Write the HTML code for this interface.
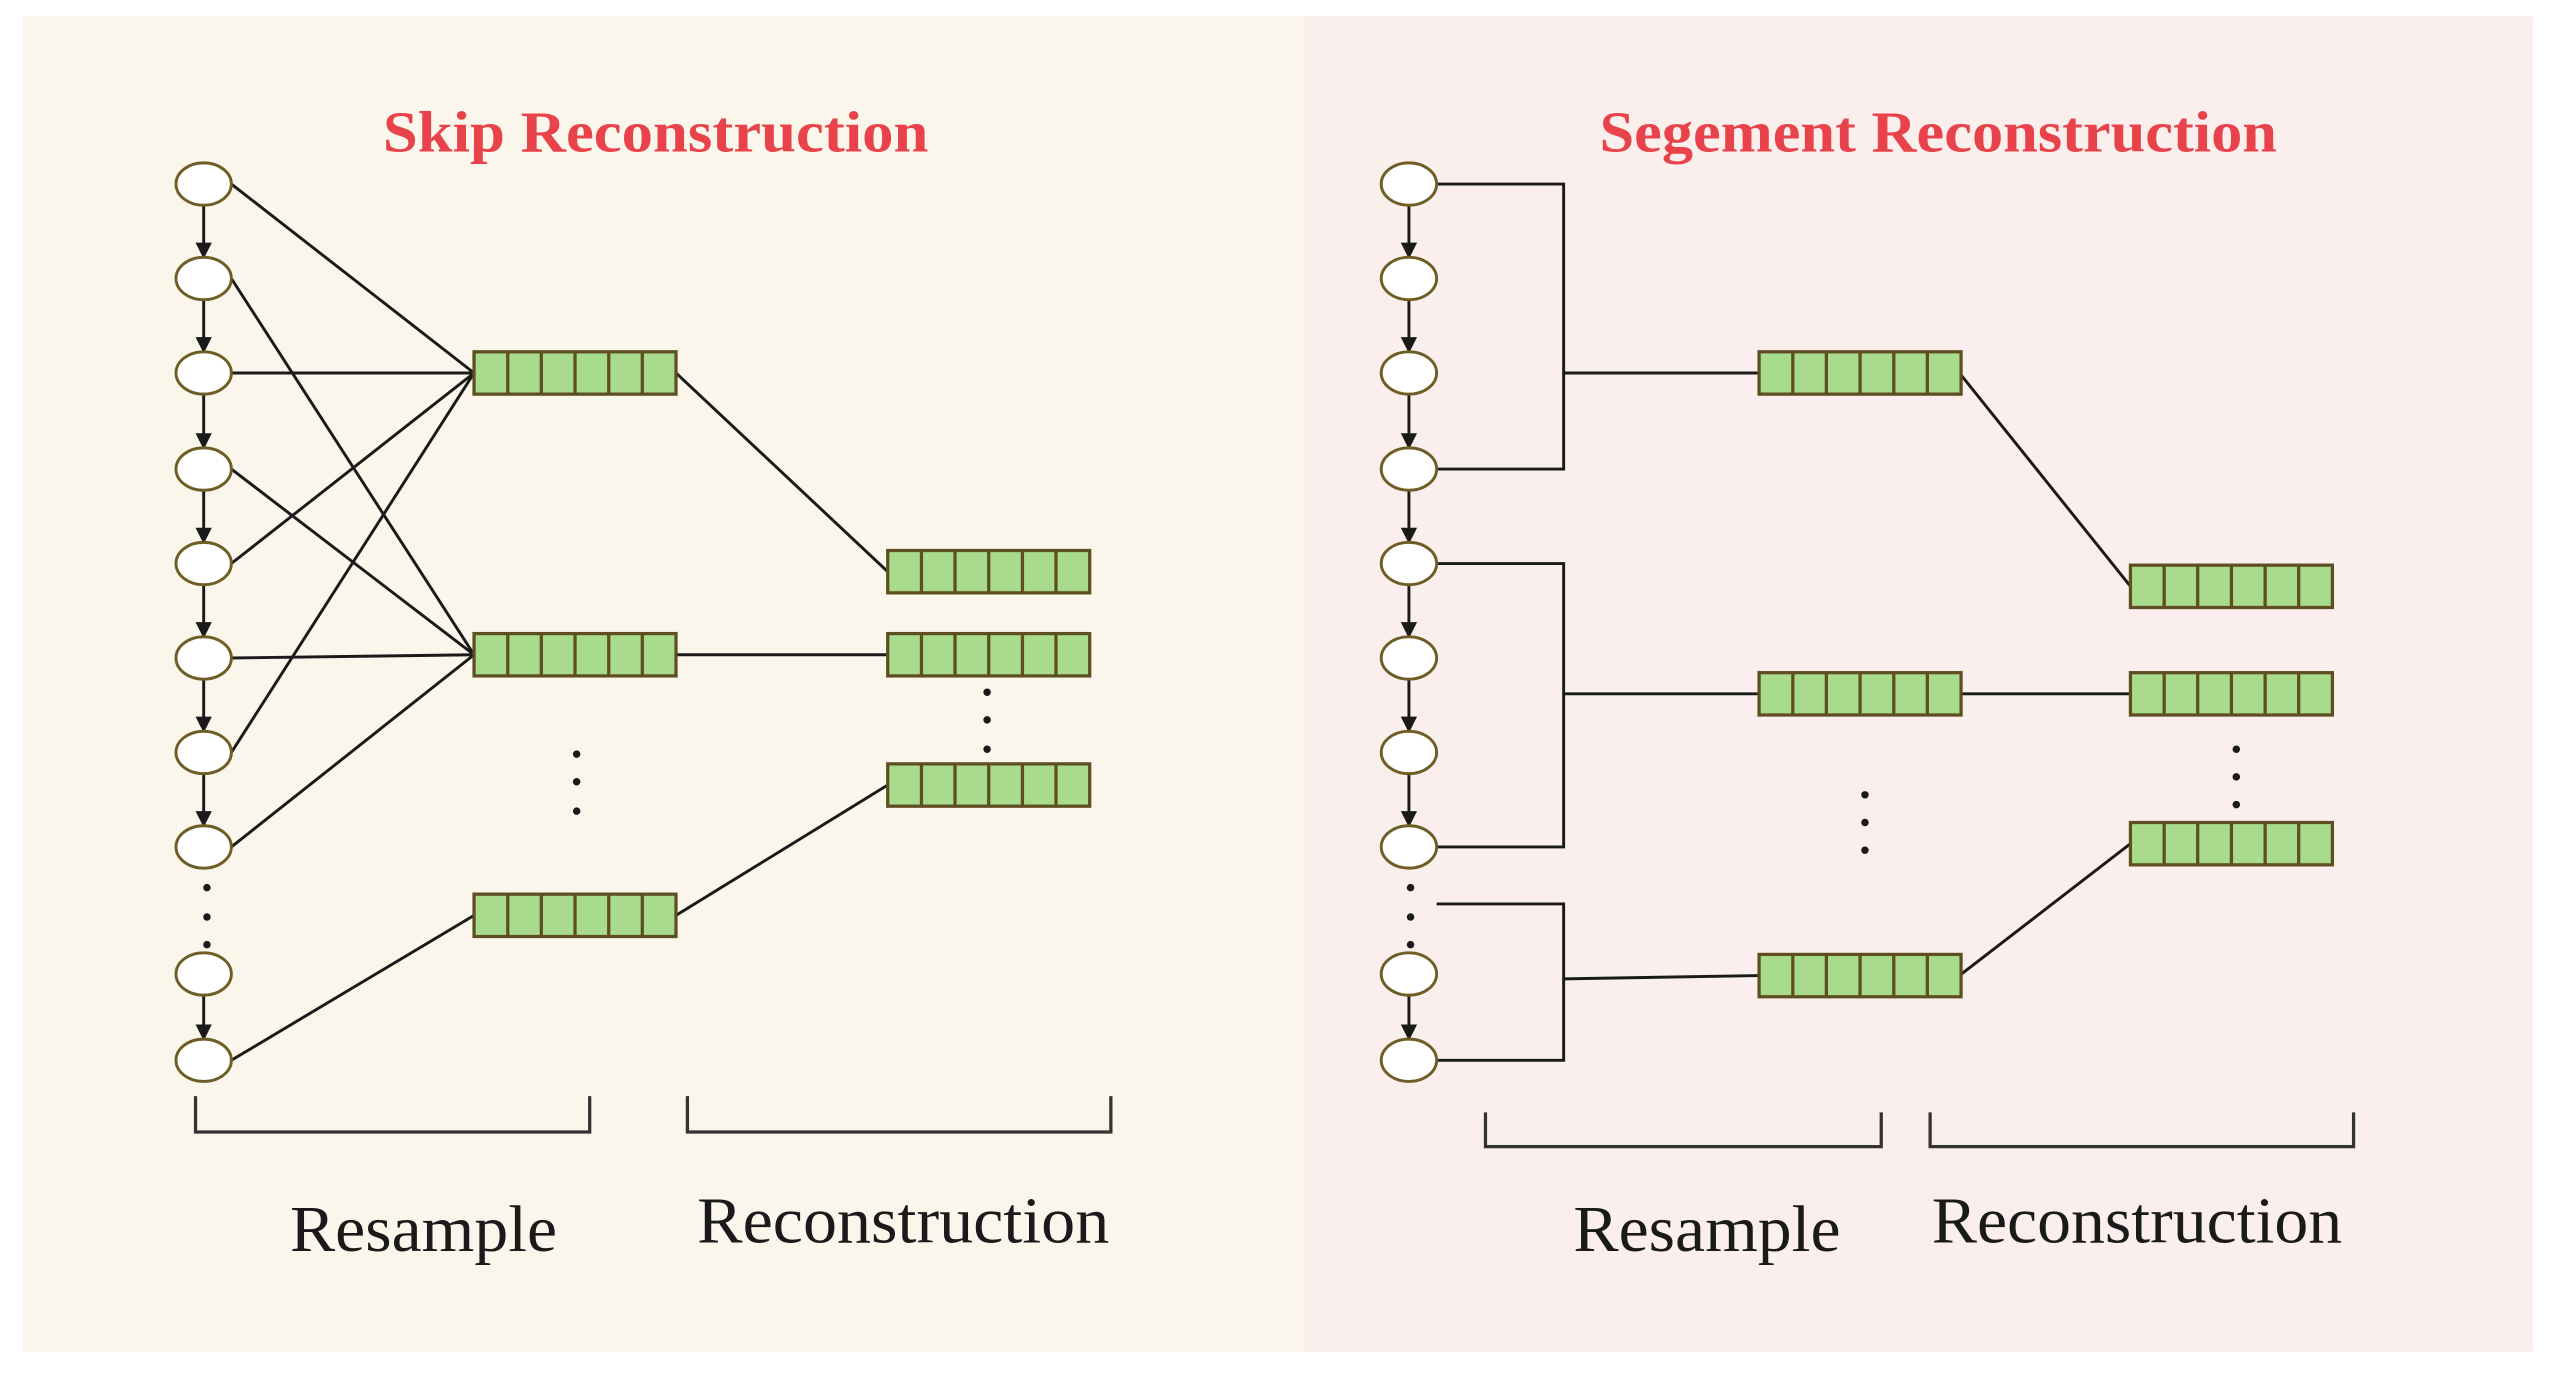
<!DOCTYPE html>
<html><head><meta charset="utf-8"><style>
html,body{margin:0;padding:0;background:#fff;}
svg{display:block;}
</style></head><body>
<svg width="2554" height="1373" viewBox="0 0 1568 843" xmlns="http://www.w3.org/2000/svg">
<defs>
<marker id="ah" markerWidth="10" markerHeight="10" refX="9" refY="5" orient="auto" markerUnits="userSpaceOnUse">
<path d="M0,0 L10,5 L0,10 Z" fill="#1a1a1a"/>
</marker>
<g id="box">
<rect x="0" y="-13" width="124" height="26" fill="#a8db8c" stroke="#5e4e22" stroke-width="2"/>
<line x1="20.7" y1="-13" x2="20.7" y2="13" stroke="#5e4e22" stroke-width="2"/>
<line x1="41.3" y1="-13" x2="41.3" y2="13" stroke="#5e4e22" stroke-width="2"/>
<line x1="62" y1="-13" x2="62" y2="13" stroke="#5e4e22" stroke-width="2"/>
<line x1="82.7" y1="-13" x2="82.7" y2="13" stroke="#5e4e22" stroke-width="2"/>
<line x1="103.3" y1="-13" x2="103.3" y2="13" stroke="#5e4e22" stroke-width="2"/>
</g>
</defs>
<rect x="14" y="10" width="786" height="820" fill="#faf6eb"/>
<rect x="800" y="10" width="755" height="820" fill="#fbefee"/>
<g font-family="Liberation Serif, serif">
<text x="235" y="93" font-size="36" font-weight="bold" fill="#e8434a" textLength="335" lengthAdjust="spacingAndGlyphs">Skip Reconstruction</text>
<text x="982" y="93" font-size="36" font-weight="bold" fill="#e8434a" textLength="416" lengthAdjust="spacingAndGlyphs">Segement Reconstruction</text>
<text x="178" y="768" font-size="40" fill="#1a1a1a" textLength="164" lengthAdjust="spacingAndGlyphs">Resample</text>
<text x="428" y="763" font-size="40" fill="#1a1a1a" textLength="253" lengthAdjust="spacingAndGlyphs">Reconstruction</text>
<text x="966" y="768" font-size="40" fill="#1a1a1a" textLength="164" lengthAdjust="spacingAndGlyphs">Resample</text>
<text x="1186" y="763" font-size="40" fill="#1a1a1a" textLength="252" lengthAdjust="spacingAndGlyphs">Reconstruction</text>
</g>
<g stroke="#1a1a1a" stroke-width="1.8" fill="none">
<line x1="142" y1="113" x2="291" y2="229"/>
<line x1="142" y1="171" x2="291" y2="402"/>
<line x1="142" y1="229" x2="291" y2="229"/>
<line x1="142" y1="288" x2="291" y2="402"/>
<line x1="142" y1="346" x2="291" y2="229"/>
<line x1="142" y1="404" x2="291" y2="402"/>
<line x1="142" y1="462" x2="291" y2="229"/>
<line x1="142" y1="520" x2="291" y2="402"/>
<line x1="142" y1="651" x2="291" y2="562"/>
<line x1="415" y1="229" x2="545" y2="351"/>
<line x1="415" y1="402" x2="545" y2="402"/>
<line x1="415" y1="562" x2="545" y2="482"/>
<polyline points="882,113 960,113 960,288 882,288"/>
<line x1="960" y1="229" x2="1080" y2="229"/>
<polyline points="882,346 960,346 960,520 882,520"/>
<line x1="960" y1="426" x2="1080" y2="426"/>
<polyline points="882,555 960,555 960,651 882,651"/>
<line x1="960" y1="601" x2="1080" y2="599"/>
<line x1="1203" y1="229" x2="1308" y2="360"/>
<line x1="1203" y1="426" x2="1308" y2="426"/>
<line x1="1203" y1="599" x2="1308" y2="518"/>
<polyline points="120,673 120,695 362,695 362,673" stroke="#333" stroke-width="2"/>
<polyline points="422,673 422,695 682,695 682,673" stroke="#333" stroke-width="2"/>
<polyline points="912,683 912,704 1155,704 1155,683" stroke="#333" stroke-width="2"/>
<polyline points="1185,683 1185,704 1445,704 1445,683" stroke="#333" stroke-width="2"/>
</g>
<g stroke="#1a1a1a" stroke-width="1.8" marker-end="url(#ah)">
<line x1="125" y1="126" x2="125" y2="158"/><line x1="125" y1="184" x2="125" y2="216"/>
<line x1="125" y1="242" x2="125" y2="275"/><line x1="125" y1="301" x2="125" y2="333"/>
<line x1="125" y1="359" x2="125" y2="391"/><line x1="125" y1="417" x2="125" y2="449"/>
<line x1="125" y1="475" x2="125" y2="507"/><line x1="125" y1="611" x2="125" y2="638"/>
<line x1="865" y1="126" x2="865" y2="158"/><line x1="865" y1="184" x2="865" y2="216"/>
<line x1="865" y1="242" x2="865" y2="275"/><line x1="865" y1="301" x2="865" y2="333"/>
<line x1="865" y1="359" x2="865" y2="391"/><line x1="865" y1="417" x2="865" y2="449"/>
<line x1="865" y1="475" x2="865" y2="507"/><line x1="865" y1="611" x2="865" y2="638"/>
</g>
<g fill="#fff" stroke="#6e5e26" stroke-width="1.8">
<ellipse cx="125" cy="113" rx="17" ry="13"/><ellipse cx="125" cy="171" rx="17" ry="13"/>
<ellipse cx="125" cy="229" rx="17" ry="13"/><ellipse cx="125" cy="288" rx="17" ry="13"/>
<ellipse cx="125" cy="346" rx="17" ry="13"/><ellipse cx="125" cy="404" rx="17" ry="13"/>
<ellipse cx="125" cy="462" rx="17" ry="13"/><ellipse cx="125" cy="520" rx="17" ry="13"/>
<ellipse cx="125" cy="598" rx="17" ry="13"/><ellipse cx="125" cy="651" rx="17" ry="13"/>
<ellipse cx="865" cy="113" rx="17" ry="13"/><ellipse cx="865" cy="171" rx="17" ry="13"/>
<ellipse cx="865" cy="229" rx="17" ry="13"/><ellipse cx="865" cy="288" rx="17" ry="13"/>
<ellipse cx="865" cy="346" rx="17" ry="13"/><ellipse cx="865" cy="404" rx="17" ry="13"/>
<ellipse cx="865" cy="462" rx="17" ry="13"/><ellipse cx="865" cy="520" rx="17" ry="13"/>
<ellipse cx="865" cy="598" rx="17" ry="13"/><ellipse cx="865" cy="651" rx="17" ry="13"/>
</g>
<use href="#box" x="291" y="229"/><use href="#box" x="291" y="402"/><use href="#box" x="291" y="562"/>
<use href="#box" x="545" y="351"/><use href="#box" x="545" y="402"/><use href="#box" x="545" y="482"/>
<use href="#box" x="1080" y="229"/><use href="#box" x="1080" y="426"/><use href="#box" x="1080" y="599"/>
<use href="#box" x="1308" y="360"/><use href="#box" x="1308" y="426"/><use href="#box" x="1308" y="518"/>
<g fill="#1a1a1a">
<circle cx="127" cy="545" r="2.3"/><circle cx="127" cy="563" r="2.3"/><circle cx="127" cy="580" r="2.3"/>
<circle cx="354" cy="463" r="2.3"/><circle cx="354" cy="480" r="2.3"/><circle cx="354" cy="498" r="2.3"/>
<circle cx="606" cy="425" r="2.3"/><circle cx="606" cy="442" r="2.3"/><circle cx="606" cy="460" r="2.3"/>
<circle cx="866" cy="545" r="2.3"/><circle cx="866" cy="563" r="2.3"/><circle cx="866" cy="580" r="2.3"/>
<circle cx="1145" cy="488" r="2.3"/><circle cx="1145" cy="505" r="2.3"/><circle cx="1145" cy="522" r="2.3"/>
<circle cx="1373" cy="460" r="2.3"/><circle cx="1373" cy="477" r="2.3"/><circle cx="1373" cy="494" r="2.3"/>
</g>
</svg>
</body></html>
